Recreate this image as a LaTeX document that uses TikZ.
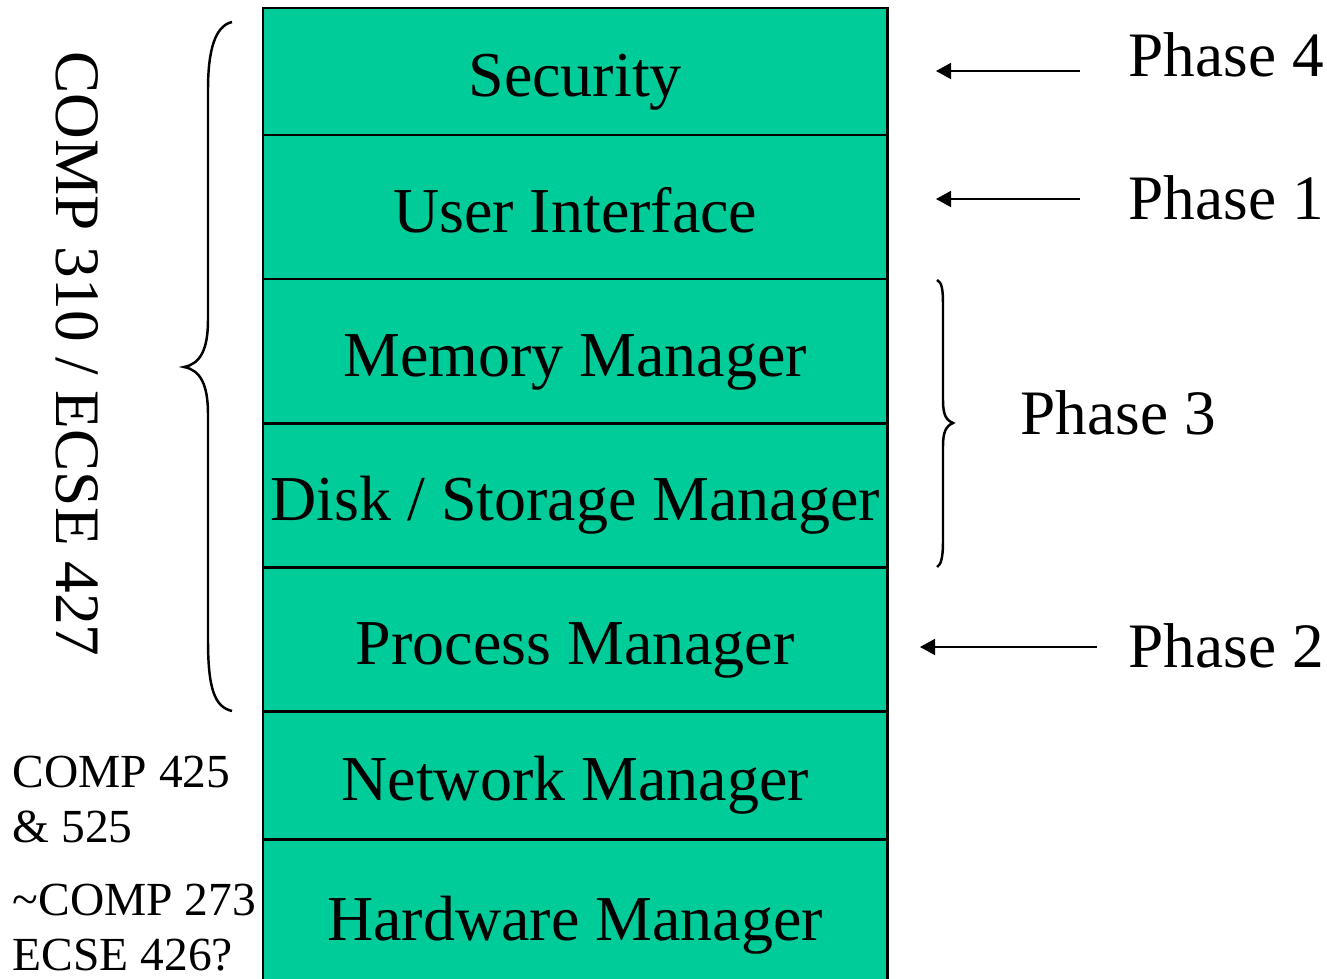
\documentclass[tikz,border=0pt]{standalone}
\usepackage{fontspec}
\setmainfont{Liberation Serif}
\usetikzlibrary{positioning}
\usetikzlibrary{arrows.meta}
\definecolor{layergreen}{RGB}{0,204,153}
\tikzset{
    layer/.style={rectangle, draw=black, fill=layergreen, line width=0.75pt, outer sep=0pt,
        minimum width=6.24cm, inner sep=0pt, text height=0.585cm, text depth=0.08cm,
        font=\fontsize{18.2}{22}\selectfont}
}

\begin{document}
\begin{tikzpicture}[x=0.01cm, y=-0.01cm,
        every node/.style={node distance=0mm},
        phase/.style={anchor=base west, inner sep=0pt, font=\fontsize{18}{22}\selectfont},
        course/.style={anchor=base west, align=left, inner sep=0pt, font=\fontsize{13.5}{15.6}\selectfont},
        pointer/.style={-{Triangle[length=1.5mm, width=1.6mm]}, line width=0.43pt},
        curly/.style={line width=0.7pt},
    ]
    \clip (0,0) rectangle (1327,979);

    \node[layer, minimum height=1.27cm, anchor=north west] (L1) at (263,8) {Security};
    \node[layer, minimum height=1.44cm] (L2) [below=of L1] {User Interface};
    \node[layer, minimum height=1.44cm] (L3) [below=of L2] {Memory Manager};
    \node[layer, minimum height=1.44cm] (L4) [below=of L3] {Disk / Storage Manager};
    \node[layer, minimum height=1.44cm] (L5) [below=of L4] {Process Manager};
    \node[layer, minimum height=1.28cm] (L6) [below=of L5] {Network Manager};
    \node[layer, minimum height=1.52cm] (L7) [below=of L6] {Hardware Manager};

    \node[phase] (P4) at (1128,77)  {Phase 4};
    \node[phase] (P1) at (1128,219) {Phase 1};
    \node[phase] (P3) at (1020,434) {Phase 3};
    \node[phase] (P2) at (1128,667) {Phase 2};

    \coordinate (A4) at (1080,71);
    \coordinate (B4) at (936,71);
    \coordinate (A1) at (1080,199);
    \coordinate (B1) at (936,199);
    \coordinate (A2) at (1097,647);
    \coordinate (B2) at (920,647);

    \draw[pointer] (A4) -- (B4);
    \draw[pointer] (A1) -- (B1);
    \draw[pointer] (A2) -- (B2);

    \draw[curly] (232,22) .. controls (215,26) and (208,50) .. (208,90) -- (208,320)
        .. controls (208,350) and (200,364) .. (184,367)
        .. controls (200,370) and (208,384) .. (208,414) -- (208,640)
        .. controls (208,690) and (215,707) .. (232,711);

    \draw[curly] (937,280) .. controls (942,282) and (943,290) .. (943,305) -- (943,400)
        .. controls (943,415) and (946,420) .. (953,423)
        .. controls (946,426) and (943,432) .. (943,446) -- (943,542)
        .. controls (943,557) and (941,565) .. (937,567);

    \node[rotate=-90, inner sep=0pt, font=\fontsize{18}{22}\selectfont] (C0) at (77,354) {COMP 310 / ECSE 427};

    \node[course] (C1) at (12,842) {COMP 425\\\& 525};
    \node[course] (C2) at (12,970) {\textasciitilde COMP 273\\ECSE 426?};

\end{tikzpicture}
\end{document}
